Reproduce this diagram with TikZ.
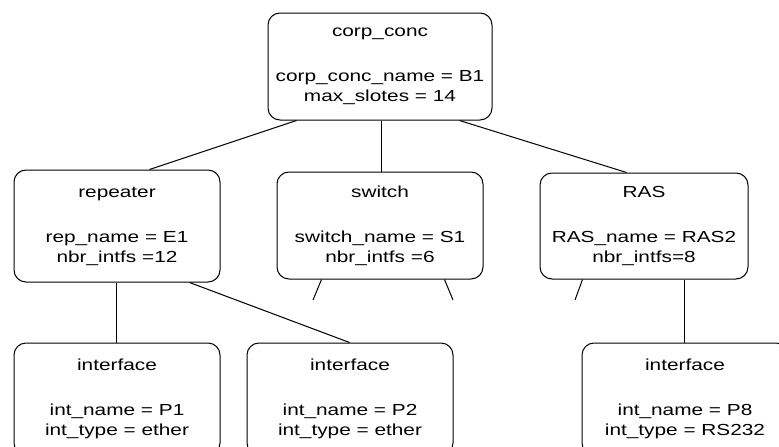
\documentclass[tikz,border=0pt]{standalone}
\usepackage{fontspec}
\setmainfont[FakeStretch=1.3]{Liberation Sans}
\begin{document}
\begin{tikzpicture}[x=1pt,y=-1pt,
  entity/.style={draw=black,line width=1pt,rounded corners=12pt,inner sep=0pt,
    align=center,font=\fontsize{16}{20}\selectfont},
  link/.style={draw=black,line width=1pt}]
\clip (0,0) rectangle (779,447);
\fill[white] (0,0) rectangle (779,447);
\node[entity,minimum width=224pt,minimum height=107pt] (corp) at (380,66.5)
  {corp\_conc\\[25pt]corp\_conc\_name = B1\\max\_slotes = 14};
\node[entity,minimum width=206pt,minimum height=112pt] (rep) at (117,226)
  {repeater\\[25pt]rep\_name = E1\\nbr\_intfs =12};
\node[entity,minimum width=206pt,minimum height=107pt] (sw) at (380,225.5)
  {switch\\[25pt]switch\_name = S1\\nbr\_intfs =6};
\node[entity,minimum width=208pt,minimum height=106pt] (ras) at (644,226)
  {RAS\\[25pt]RAS\_name = RAS2\\nbr\_intfs=8};
\node[entity,minimum width=206pt,minimum height=112pt] (if1) at (117,399)
  {interface\\[25pt]int\_name = P1\\int\_type = ether};
\node[entity,minimum width=206pt,minimum height=112pt] (if2) at (350,399)
  {interface\\[25pt]int\_name = P2\\int\_type = ether};
\node[entity,minimum width=206pt,minimum height=112pt] (if3) at (685,399)
  {interface\\[25pt]int\_name = P8\\int\_type = RS232};
% connectors
\draw[link] ([xshift=29pt]corp.south west) -- ([xshift=136pt]rep.north west);
\draw[link] ([xshift=114pt]corp.south west) -- ([xshift=105pt]sw.north west);
\draw[link] ([xshift=192pt]corp.south west) -- ([xshift=87pt]ras.north west);
\draw[link] ([xshift=103pt]rep.south west) -- ([xshift=103pt]if1.north west);
\draw[link] ([xshift=176pt]rep.south west) -- ([xshift=103pt]if2.north west);
\draw[link] ([xshift=145pt]ras.south west) -- ([xshift=103pt]if3.north west);
% short stubs
\coordinate (s1) at (313,300);
\coordinate (s2) at (453,300);
\coordinate (s3) at (575,300);
\draw[link] ([xshift=45pt]sw.south west) -- (s1);
\draw[link] ([xshift=168pt]sw.south west) -- (s2);
\draw[link] ([xshift=43pt]ras.south west) -- (s3);
\end{tikzpicture}
\end{document}
